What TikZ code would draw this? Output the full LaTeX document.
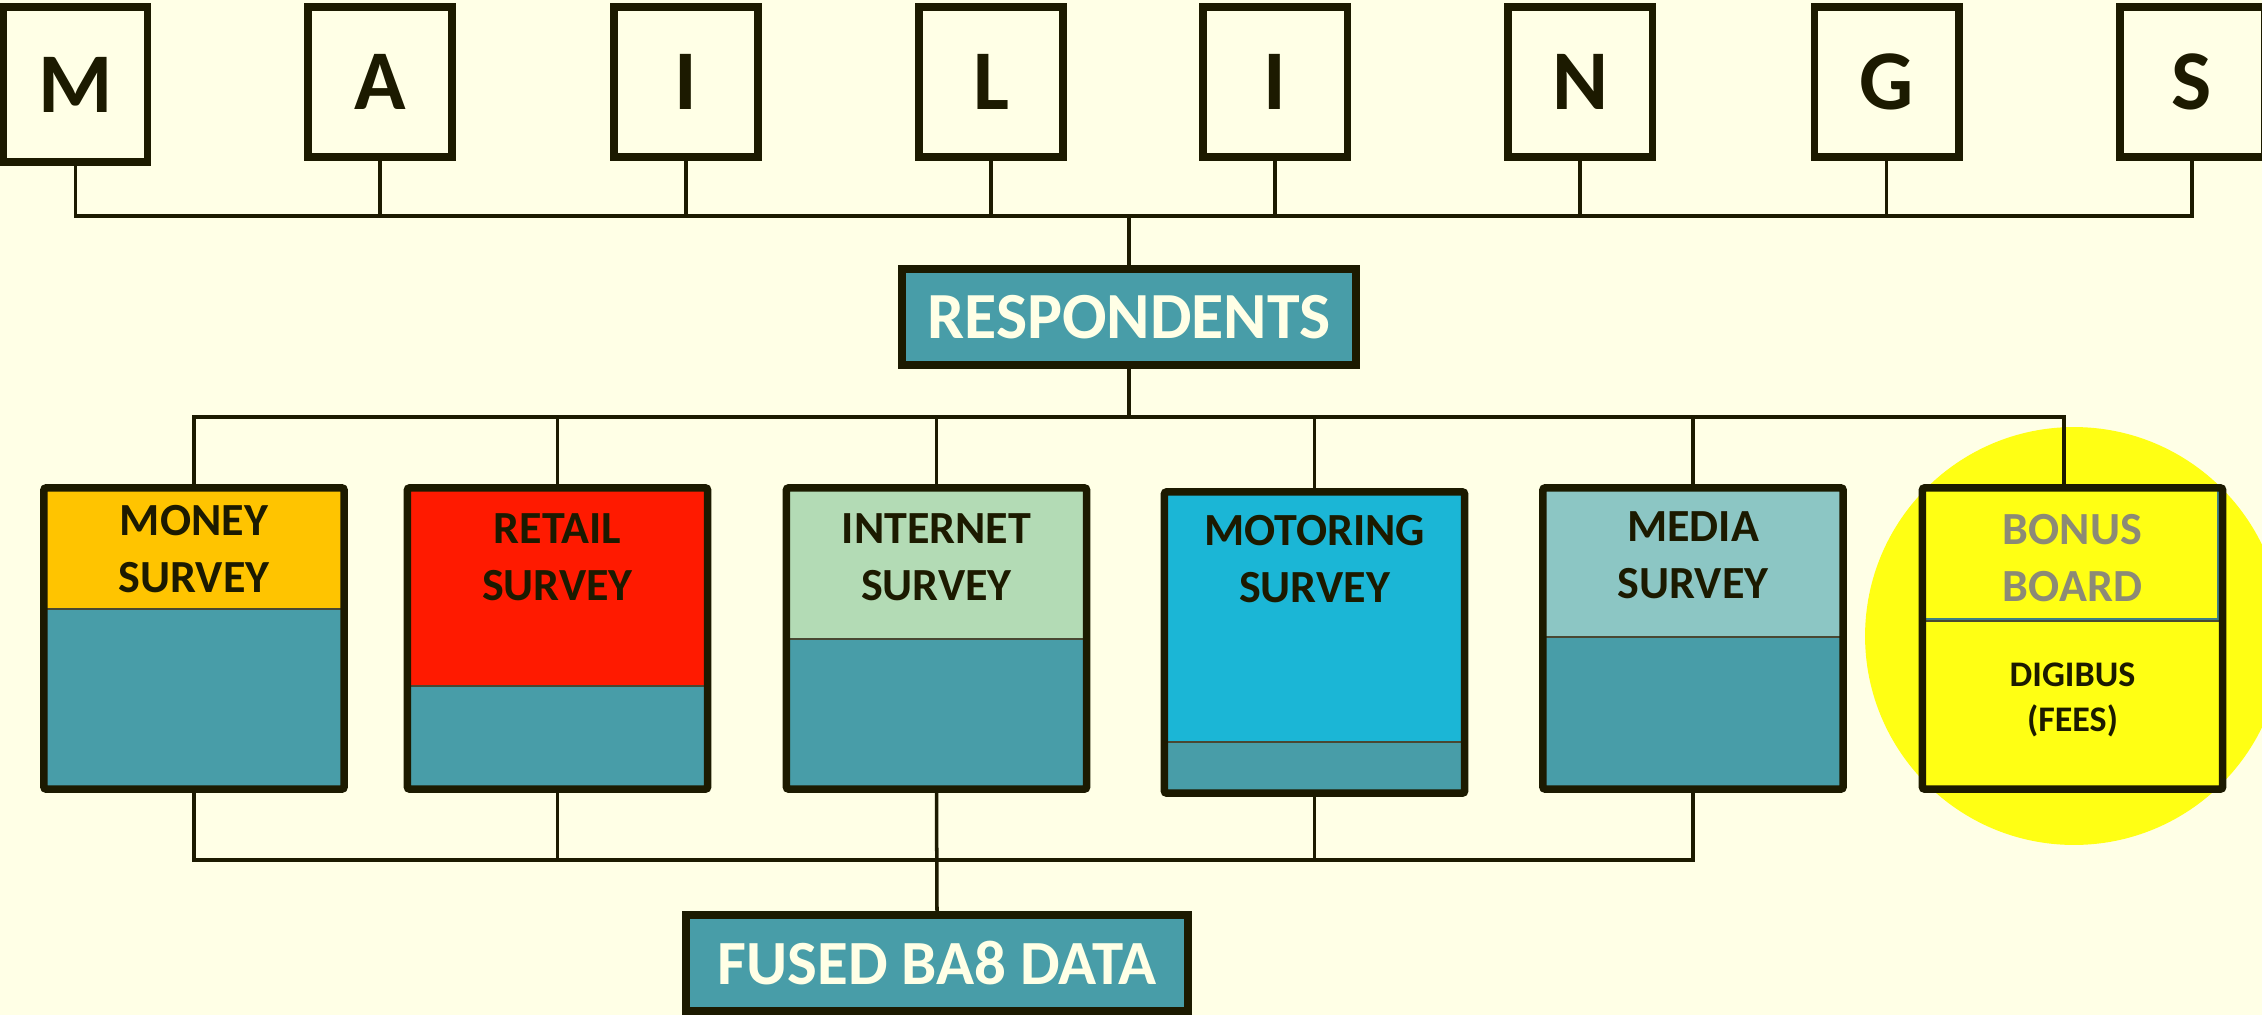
\documentclass[tikz,border=0pt]{standalone}
\usepackage{fontspec}
\setmainfont{Carlito}
\definecolor{bg}{HTML}{FFFFE6}
\definecolor{dk}{HTML}{1C1A00}
\definecolor{tealf}{HTML}{489DA8}
\definecolor{tealdk}{HTML}{3E7F86}
\definecolor{moneyc}{HTML}{FFC400}
\definecolor{retailc}{HTML}{FF1A00}
\definecolor{internetc}{HTML}{B3DBB5}
\definecolor{motoringc}{HTML}{1BB6D6}
\definecolor{mediac}{HTML}{8CC6C4}
\definecolor{yel}{HTML}{FFFF14}
\definecolor{bonustxt}{HTML}{8C8A76}
\definecolor{cream}{HTML}{FFFFE6}
\tikzset{
  letterbox/.style={draw=dk, line width=4.27pt, minimum width=2.89cm, minimum height=3.01cm, inner sep=0pt, text=dk, font=\fontsize{48.4pt}{50pt}\selectfont\bfseries},
  titlebox/.style={draw=dk, fill=tealf, line width=4.55pt, inner sep=0pt, text=cream},
  survey/.style={draw=dk, line width=4.27pt, minimum width=6.01cm, minimum height=6.03cm, inner sep=0pt, rounded corners=1.5pt},
  hdr/.style={align=center, inner sep=0pt, text=dk, font=\fontsize{26.2pt}{32.4pt}\selectfont\bfseries},
  conn/.style={draw=dk, line width=2pt},
  divider/.style={draw=dk!80, line width=1.2pt}
}
\newcommand\survbox[7]{%
  \fill[#5] (#2-151,#3-151.5) rectangle (#2+151,#4);
  \filldraw[fill=tealf, draw=tealdk, line width=1.2pt] (#2-150,#4) rectangle (#2+150,#3+150.5);
  \draw[divider] (#2-151,#4) -- (#2+151,#4);
  \node[survey] (#1) at (#2,#3) {};
  \node[hdr] (#1-t) at (#2,#7) {#6};
}
\begin{document}
\begin{tikzpicture}[x=0.02cm, y=-0.02cm]
\useasboundingbox (0,0) rectangle (2262,1015);
\fill[bg] (0,0) rectangle (2262,1015);
% yellow highlight circle
\fill[yel] (2074,636) circle[radius=4.18cm];

% letter boxes
\node[letterbox, minimum height=3.11cm] (M) at (75.5,84.5) {M};
\node[letterbox] (A) at (380,82) {A};
\node[letterbox] (I1) at (686,82) {I};
\node[letterbox] (L) at (991,82) {L};
\node[letterbox] (I2) at (1275,82) {I};
\node[letterbox] (N) at (1580,82) {N};
\node[letterbox] (G) at (1886.5,82) {G};
\node[letterbox] (S) at (2192,82) {S};

% respondents
\node[titlebox, minimum width=9.08cm, minimum height=1.92cm, font=\fontsize{37.5pt}{40pt}\selectfont\bfseries] (resp) at (1129,317) {RESPONDENTS};

% top bus
\draw[conn] (M.south) |- (S.south |- 0,216) -- (S.south);
\foreach \n in {A,I1,L,I2,N,G} \draw[conn] (\n.south) -- (\n.south |- 0,216);
\draw[conn] (resp.north) -- (resp.north |- 0,216);

% survey boxes
\survbox{money}{194}{638.5}{609}{moneyc}{MONEY\\SURVEY}{549}
\survbox{retail}{557.5}{638.5}{686}{retailc}{RETAIL\\SURVEY}{557}
\survbox{internet}{936.5}{638.5}{639}{internetc}{INTERNET\\SURVEY}{557}
\survbox{motoring}{1314.5}{642.5}{742}{motoringc}{MOTORING\\SURVEY}{559}
\survbox{media}{1693}{638.5}{637}{mediac}{MEDIA\\SURVEY}{555.5}

% bonus board box
\fill[yel] (2072.5-151,638.5-151.5) rectangle (2072.5+151,638.5+151.5);
\draw[draw=tealdk, line width=1.2pt] (1924,490) rectangle (2218,619);
\draw[divider] (1921,621) -- (2224,621);
\node[survey] (bonus) at (2072.5,638.5) {};
\node[hdr, text=bonustxt] (bonus-t) at (2072.5,558) {BONUS\\BOARD};
\node[hdr, font=\fontsize{20.5pt}{25.6pt}\selectfont\bfseries] (digibus) at (2072.5,700) {DIGIBUS\\(FEES)};

% respondents bus
\draw[conn] (resp.south) -- (resp.south |- 0,417);
\draw[conn] (money.north) |- (2064,417) -- (bonus.north -| 2064,0);
\foreach \n in {retail,internet,motoring,media} \draw[conn] (\n.north) -- (\n.north |- 0,417);

% fused
\node[titlebox, minimum width=10.04cm, minimum height=1.92cm, font=\fontsize{35.8pt}{38pt}\selectfont\bfseries] (fused) at (937,963) {FUSED BA8 DATA};

% bottom bus
\draw[conn] (money.south) |- (media.south |- 0,860) -- (media.south);
\foreach \n in {retail,motoring} \draw[conn] (\n.south) -- (\n.south |- 0,860);
\draw[conn] (internet.south) -- (fused.north);
\end{tikzpicture}
\end{document}
